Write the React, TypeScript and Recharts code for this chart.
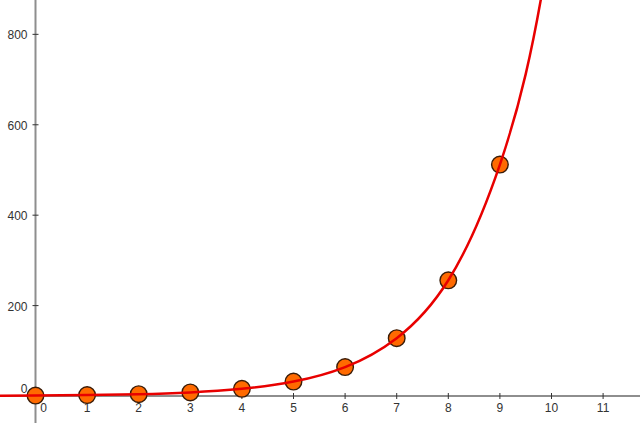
import React from 'react';
import { ComposedChart, Line, Scatter, XAxis, YAxis, ReferenceLine, ReferenceDot } from 'recharts';

const pointX = [0, 1, 2, 3, 4, 5, 6, 7, 8, 9];
const pointY = [1, 2, 4, 8, 16, 32, 64, 128, 256, 512];
const curveX = [-1, 0, 1, 2, 3, 4, 5, 6, 7, 8, 9, 10, 11];
const curveY = [0.5, 1, 2, 4, 8, 16, 32, 64, 128, 256, 512, 1024, 2048];
const xTicks = [1, 2, 3, 4, 5, 6, 7, 8, 9, 10, 11];
const yTicks = [200, 400, 600, 800];

const points = pointX.map((x, i) => ({ x, y: pointY[i] }));
const curve = curveX.map((x, i) => ({ x, y: curveY[i] }));

const X_DOMAIN: [number, number] = [-0.688, 11.715];
const Y_DOMAIN: [number, number] = [-59.7, 876];

const FONT = '"Liberation Sans", Arial, sans-serif';
const AXIS = '#8e8e8e';
const TICK = '#333';

const XTickShape = (label: string, originLabel: boolean) => (p: any) => (
  <g>
    <line x1={p.cx} x2={p.cx} y1={p.cy - 3} y2={p.cy + 3} stroke={TICK} strokeWidth={1} />
    <text
      x={originLabel ? p.cx + 8 : p.cx}
      y={p.cy + 16}
      textAnchor="middle"
      fontFamily={FONT}
      fontSize={12}
      fill={TICK}
    >
      {label}
    </text>
  </g>
);

const YTickShape = (label: string, originLabel: boolean) => (p: any) => (
  <g>
    {!originLabel && (
      <line x1={p.cx - 3} x2={p.cx + 3} y1={p.cy} y2={p.cy} stroke={TICK} strokeWidth={1} />
    )}
    <text
      x={p.cx - 8}
      y={originLabel ? p.cy - 3 : p.cy + 5}
      textAnchor="end"
      fontFamily={FONT}
      fontSize={12}
      fill={TICK}
    >
      {label}
    </text>
  </g>
);

const PointShape = (p: any) => (
  <circle cx={p.cx} cy={p.cy} r={8.3} fill="#ff6a00" stroke="#3a1c08" strokeWidth={1.4} />
);

export default function App() {
  return (
    <div style={{ position: 'absolute', left: 0, top: 0, background: '#fff' }}>
      <ComposedChart width={640} height={423} margin={{ top: 0, right: 0, bottom: 0, left: 0 }}>
        <XAxis dataKey="x" type="number" domain={X_DOMAIN} allowDataOverflow hide />
        <YAxis dataKey="y" type="number" domain={Y_DOMAIN} allowDataOverflow hide />
        <ReferenceLine y={0} stroke={AXIS} strokeWidth={2} zIndex={50} />
        <ReferenceLine x={0} stroke={AXIS} strokeWidth={2} zIndex={50} />
        {xTicks.map((t) => (
          <ReferenceDot key={'x' + t} x={t} y={0} r={0} shape={XTickShape(String(t), false)} zIndex={100} />
        ))}
        <ReferenceDot x={0} y={0} r={0} shape={XTickShape('0', true)} zIndex={100} />
        {yTicks.map((t) => (
          <ReferenceDot key={'y' + t} x={0} y={t} r={0} shape={YTickShape(String(t), false)} zIndex={100} />
        ))}
        <ReferenceDot x={0} y={0} r={0} shape={YTickShape('0', true)} zIndex={100} />
        <Scatter data={points} dataKey="y" shape={PointShape} isAnimationActive={false} zIndex={650} />
        <Line
          data={curve}
          dataKey="y"
          type="natural"
          stroke="#e80000"
          strokeWidth={2.5}
          dot={false}
          activeDot={false}
          isAnimationActive={false}
          zIndex={700}
        />
      </ComposedChart>
    </div>
  );
}
